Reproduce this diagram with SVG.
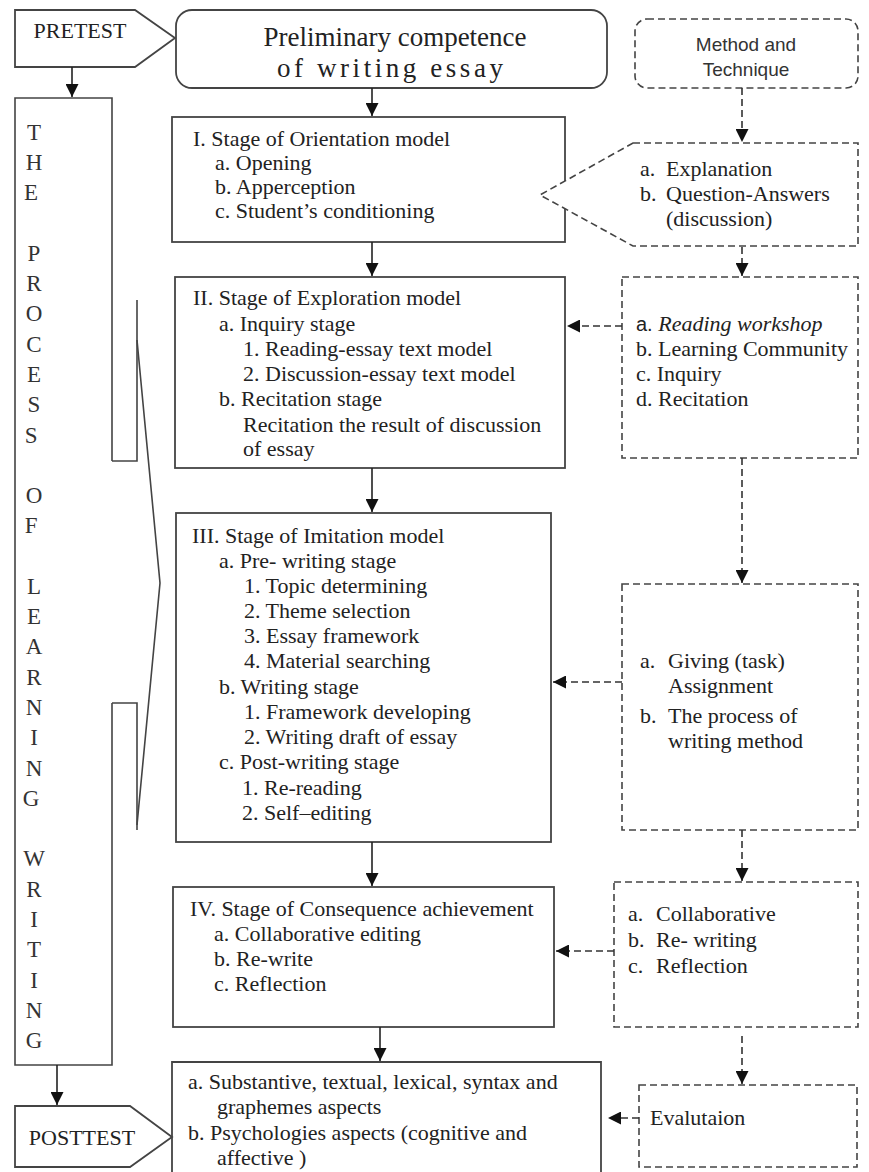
<svg xmlns="http://www.w3.org/2000/svg" width="869" height="1172" viewBox="0 0 869 1172">
<defs>
<marker id="ah" viewBox="0 0 10 10" refX="10" refY="5" markerWidth="13" markerHeight="13" markerUnits="userSpaceOnUse" orient="auto"><path d="M0,0 L10,5 L0,10 z" fill="#111"/></marker>
<style>
.box{fill:#fff;stroke:#444;stroke-width:1.8}
.dash{fill:#fff;stroke:#444;stroke-width:1.6;stroke-dasharray:7 4}
.ln{fill:none;stroke:#444;stroke-width:1.6}
.cn{fill:none;stroke:#222;stroke-width:1.6}
.cnd{fill:none;stroke:#333;stroke-width:1.6;stroke-dasharray:7 4}
.t{font-family:"Liberation Serif","Times New Roman",serif;font-size:22px;fill:#222}
.big{font-family:"Liberation Serif","Times New Roman",serif;font-size:27px;fill:#222;text-anchor:middle}
.s{font-family:"Liberation Sans",Arial,sans-serif;font-size:19px;fill:#333}
.sa{font-family:"Liberation Sans",Arial,sans-serif;font-size:20px}
.col{font-family:"Liberation Serif","Times New Roman",serif;font-size:23px;fill:#333;text-anchor:middle}
</style>
</defs>
<rect width="869" height="1172" fill="#fff"/>

<g id="pretest">
<path class="box" d="M15,10 L135,10 L175,38 L135,67 L15,67 Z"/>
<text class="t" x="80" y="38" text-anchor="middle">PRETEST</text>
</g>

<g id="preliminary">
<rect class="box" x="176" y="10" width="431" height="78" rx="16"/>
<text class="big" x="395" y="46">Preliminary competence</text>
<text class="big" x="390" y="77" textLength="226" lengthAdjust="spacing">of writing essay</text>
</g>

<g id="method">
<rect class="dash" x="635" y="19" width="223" height="69" rx="12"/>
<text class="s" x="746" y="51" text-anchor="middle">Method and</text>
<text class="s" x="746" y="76" text-anchor="middle">Technique</text>
</g>

<g id="process">
<path class="ln" d="M112,461 L112,98 L15,98 L15,1065 L112,1065 L112,703"/>
<path class="ln" d="M112,461 L137,461 L137,300"/>
<path class="ln" d="M112,703 L137,703 L137,830"/>
<path class="ln" d="M137,340 L160,583 L137,825"/>
<text class="col">
<tspan x="34" y="140">T</tspan><tspan x="34" y="170">H</tspan><tspan x="34" y="200">E</tspan>
<tspan x="34" y="261">P</tspan><tspan x="34" y="291">R</tspan><tspan x="34" y="321">O</tspan><tspan x="34" y="352">C</tspan><tspan x="34" y="382">E</tspan><tspan x="34" y="412">S</tspan><tspan x="34" y="443">S</tspan>
<tspan x="34" y="503">O</tspan><tspan x="34" y="533">F</tspan>
<tspan x="34" y="594">L</tspan><tspan x="34" y="624">E</tspan><tspan x="34" y="654">A</tspan><tspan x="34" y="685">R</tspan><tspan x="34" y="715">N</tspan><tspan x="34" y="745">I</tspan><tspan x="34" y="776">N</tspan><tspan x="34" y="806">G</tspan>
<tspan x="34" y="866">W</tspan><tspan x="34" y="897">R</tspan><tspan x="34" y="927">I</tspan><tspan x="34" y="957">T</tspan><tspan x="34" y="988">I</tspan><tspan x="34" y="1018">N</tspan><tspan x="34" y="1048">G</tspan>
</text>
</g>

<g id="stage1">
<rect class="box" x="172" y="117" width="393" height="125"/>
<text class="t" x="193" y="146">I. Stage of Orientation model</text>
<text class="t" x="215" y="170">a. Opening</text>
<text class="t" x="215" y="194">b. Apperception</text>
<text class="t" x="215" y="218">c. Student’s conditioning</text>
</g>

<g id="explanation">
<path class="dash" d="M633,143 L858,143 L858,246 L633,246 L540,195 Z"/>
<text class="t" x="640" y="176">a.</text><text class="t" x="666" y="176">Explanation</text>
<text class="t" x="640" y="201">b.</text><text class="t" x="666" y="201">Question-Answers</text>
<text class="t" x="666" y="226">(discussion)</text>
</g>

<g id="stage2">
<rect class="box" x="175" y="277" width="390" height="191"/>
<text class="t" x="193" y="305">II. Stage of Exploration model</text>
<text class="t" x="219" y="331">a. Inquiry stage</text>
<text class="t" x="243" y="356">1. Reading-essay text model</text>
<text class="t" x="243" y="381">2. Discussion-essay text model</text>
<text class="t" x="219" y="406">b. Recitation stage</text>
<text class="t" x="243" y="432">Recitation the result of discussion</text>
<text class="t" x="243" y="456">of essay</text>
</g>

<g id="methods2">
<rect class="dash" x="622" y="277" width="236" height="181"/>
<text class="t" x="636" y="331"><tspan class="sa">a.</tspan><tspan font-style="italic"> Reading  workshop</tspan></text>
<text class="t" x="636" y="356">b. Learning Community</text>
<text class="t" x="636" y="381">c. Inquiry</text>
<text class="t" x="636" y="406">d. Recitation</text>
</g>

<g id="stage3">
<rect class="box" x="176" y="513" width="375" height="329"/>
<text class="t" x="192" y="543">III. Stage of Imitation model</text>
<text class="t" x="219" y="568">a. Pre- writing stage</text>
<text class="t" x="244" y="593">1. Topic determining</text>
<text class="t" x="244" y="618">2. Theme selection</text>
<text class="t" x="244" y="643">3. Essay framework</text>
<text class="t" x="244" y="668">4. Material searching</text>
<text class="t" x="219" y="694">b. Writing stage</text>
<text class="t" x="244" y="719">1. Framework developing</text>
<text class="t" x="244" y="744">2. Writing draft of essay</text>
<text class="t" x="219" y="769">c. Post-writing stage</text>
<text class="t" x="242" y="795">1. Re-reading</text>
<text class="t" x="242" y="820">2. Self–editing</text>
</g>

<g id="methods3">
<rect class="dash" x="622" y="584" width="236" height="246"/>
<text class="t" x="640" y="668">a.</text><text class="t" x="668" y="668">Giving  (task)</text>
<text class="t" x="668" y="693">Assignment</text>
<text class="t" x="640" y="723">b.</text><text class="t" x="668" y="723">The process of</text>
<text class="t" x="668" y="748">writing method</text>
</g>

<g id="stage4">
<rect class="box" x="173" y="887" width="381" height="140"/>
<text class="t" x="190" y="916">IV. Stage of Consequence achievement</text>
<text class="t" x="214" y="941">a. Collaborative editing</text>
<text class="t" x="214" y="966">b. Re-write</text>
<text class="t" x="214" y="991">c. Reflection</text>
</g>

<g id="methods4">
<rect class="dash" x="614" y="882" width="244" height="145"/>
<text class="t" x="628" y="921">a.</text><text class="t" x="656" y="921">Collaborative</text>
<text class="t" x="628" y="947">b.</text><text class="t" x="656" y="947">Re- writing</text>
<text class="t" x="628" y="973">c.</text><text class="t" x="656" y="973">Reflection</text>
</g>

<g id="outcome">
<path class="box" d="M172,1180 L172,1062 L601,1062 L601,1180"/>
<text class="t" x="188" y="1089">a. Substantive, textual, lexical, syntax and</text>
<text class="t" x="217" y="1114">graphemes aspects</text>
<text class="t" x="188" y="1140">b. Psychologies aspects (cognitive and</text>
<text class="t" x="217" y="1165">affective )</text>
</g>

<g id="posttest">
<path class="box" d="M15,1106 L130,1106 L172,1137 L130,1167 L15,1167 Z"/>
<text class="t" x="82" y="1145" text-anchor="middle">POSTTEST</text>
</g>

<g id="evaluation">
<rect class="dash" x="639" y="1085" width="218" height="82"/>
<text class="t" x="650" y="1125">Evalutaion</text>
</g>

<g id="connectors">
<line class="cn" x1="72" y1="67" x2="72" y2="97" marker-end="url(#ah)"/>
<line class="cn" x1="372" y1="88" x2="372" y2="116" marker-end="url(#ah)"/>
<line class="cn" x1="372" y1="242" x2="372" y2="276" marker-end="url(#ah)"/>
<line class="cn" x1="372" y1="468" x2="372" y2="512" marker-end="url(#ah)"/>
<line class="cn" x1="372" y1="842" x2="372" y2="886" marker-end="url(#ah)"/>
<line class="cn" x1="380" y1="1027" x2="380" y2="1061" marker-end="url(#ah)"/>
<line class="cn" x1="57" y1="1065" x2="57" y2="1105" marker-end="url(#ah)"/>
<line class="cnd" x1="742" y1="88" x2="742" y2="142" marker-end="url(#ah)"/>
<line class="cnd" x1="742" y1="247" x2="742" y2="276" marker-end="url(#ah)"/>
<line class="cnd" x1="622" y1="326" x2="567" y2="326" marker-end="url(#ah)"/>
<line class="cnd" x1="742" y1="458" x2="742" y2="583" marker-end="url(#ah)"/>
<line class="cnd" x1="622" y1="682" x2="553" y2="682" marker-end="url(#ah)"/>
<line class="cnd" x1="742" y1="830" x2="742" y2="881" marker-end="url(#ah)"/>
<line class="cnd" x1="614" y1="951" x2="556" y2="951" marker-end="url(#ah)"/>
<line class="cnd" x1="742" y1="1036" x2="742" y2="1084" marker-end="url(#ah)"/>
<line class="cnd" x1="639" y1="1118" x2="608" y2="1118" marker-end="url(#ah)"/>
</g>
</svg>
